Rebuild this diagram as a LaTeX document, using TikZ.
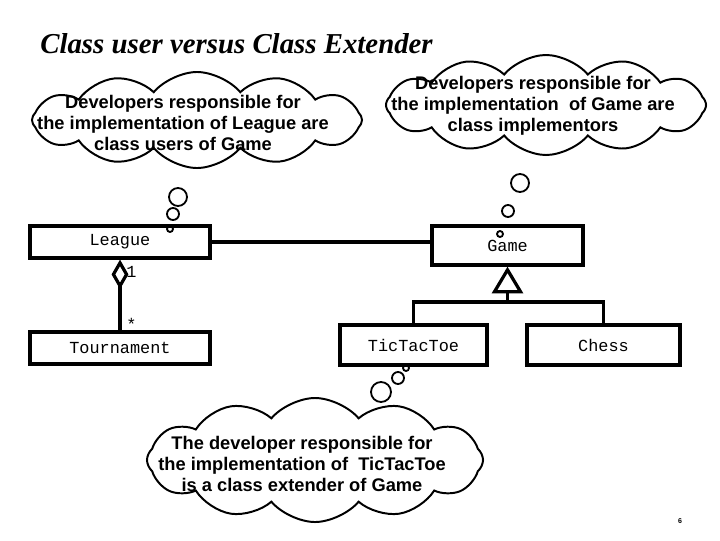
\documentclass[tikz,border=0pt]{standalone}
\usepackage{fontspec}
\setmainfont{Liberation Serif}
\setsansfont{Liberation Sans}
\setmonofont{Liberation Mono}
\usepackage{tikz}
\usetikzlibrary{shapes.symbols,arrows.meta}

\begin{document}
\begin{tikzpicture}[x=0.025cm,y=-0.025cm,
		classbox/.style={draw,line width=2.3pt,inner sep=0pt,font=\ttfamily\fontsize{12pt}{14pt}\selectfont},
		cloudnote/.style={cloud,draw,line width=1.4pt,cloud puffs=12,cloud puff arc=100,cloud ignores aspect,inner sep=0pt},
		notetext/.style={align=center,inner sep=0pt,font=\sffamily\bfseries\fontsize{13pt}{15pt}\selectfont},
		bubble/.style={draw,line width=1.3pt},
		link/.style={line width=2.3pt}]
			%%Location
			\useasboundingbox (0,0) rectangle (720,540);
			%%Title
			\node[anchor=base west,inner sep=0pt,font=\bfseries\itshape\fontsize{20.5pt}{24pt}\selectfont] (title) at (40,53) {Class user versus Class Extender};
			%%Classes
			\node[classbox,minimum width=4.5cm,minimum height=0.8cm] (league) at (120,242) {League};
			\node[classbox,minimum width=4.5cm,minimum height=0.8cm] (tournament) at (120,348) {Tournament};
			\node[classbox,minimum width=3.775cm,minimum height=0.975cm] (game) at (507.5,245.5) {Game};
			\node[classbox,minimum width=3.675cm,minimum height=1cm] (tictactoe) at (413.5,345) {TicTacToe};
			\node[classbox,minimum width=3.825cm,minimum height=1cm] (chess) at (603.5,345) {Chess};
			%%Associations
			\draw[link] (league.east) -- (league.east -| game.west);
			\draw[link,-{Diamond[open,length=21pt,width=12pt]}] (tournament.north) -- (league.south)
				node[pos=0.82,right,font=\ttfamily\fontsize{12pt}{14pt}\selectfont] {1}
				node[pos=0.08,right,font=\ttfamily\fontsize{12pt}{14pt}\selectfont] {*};
			%%Inheritance
			\coordinate (fork) at (507.5,302);
			\draw[link] (tictactoe.north) |- (fork) -| (chess.north);
			\draw[link,-{Triangle[open,length=19pt,width=22pt]}] (fork) -- (game.south);
			%%Clouds
			\node[cloudnote,minimum width=8.25cm,minimum height=2.4cm] (cloudL) at (197,120) {};
			\node[notetext] (noteL) at (183,123) {Developers responsible for\\the implementation of League are\\class users of Game};
			\node[cloudnote,minimum width=8cm,minimum height=2.5cm] (cloudG) at (546,105) {};
			\node[notetext] (noteG) at (533,106) {Developers responsible for\\the implementation\ \ of Game are\\class implementors};
			\node[cloudnote,minimum width=8.4cm,minimum height=3.1cm] (cloudT) at (315,460) {};
			\node[notetext] (noteT) at (302,464) {The developer responsible for\\the implementation of\ \ TicTacToe\\is a class extender of Game};
			%%Bubbles
			\draw[bubble] (178,197) circle[radius=9];
			\draw[bubble] (173,214) circle[radius=6];
			\draw[bubble] (170,229) circle[radius=3];
			\draw[bubble] (520,183) circle[radius=9];
			\draw[bubble] (508,211) circle[radius=6];
			\draw[bubble] (500,234) circle[radius=3];
			\draw[bubble] (381,392) circle[radius=10];
			\draw[bubble] (398,378) circle[radius=6];
			\draw[bubble] (406,368) circle[radius=3];
			%%Page
			\node[font=\sffamily\bfseries\fontsize{5pt}{6pt}\selectfont] (page) at (680,521) {6};
\end{tikzpicture}
\end{document}
